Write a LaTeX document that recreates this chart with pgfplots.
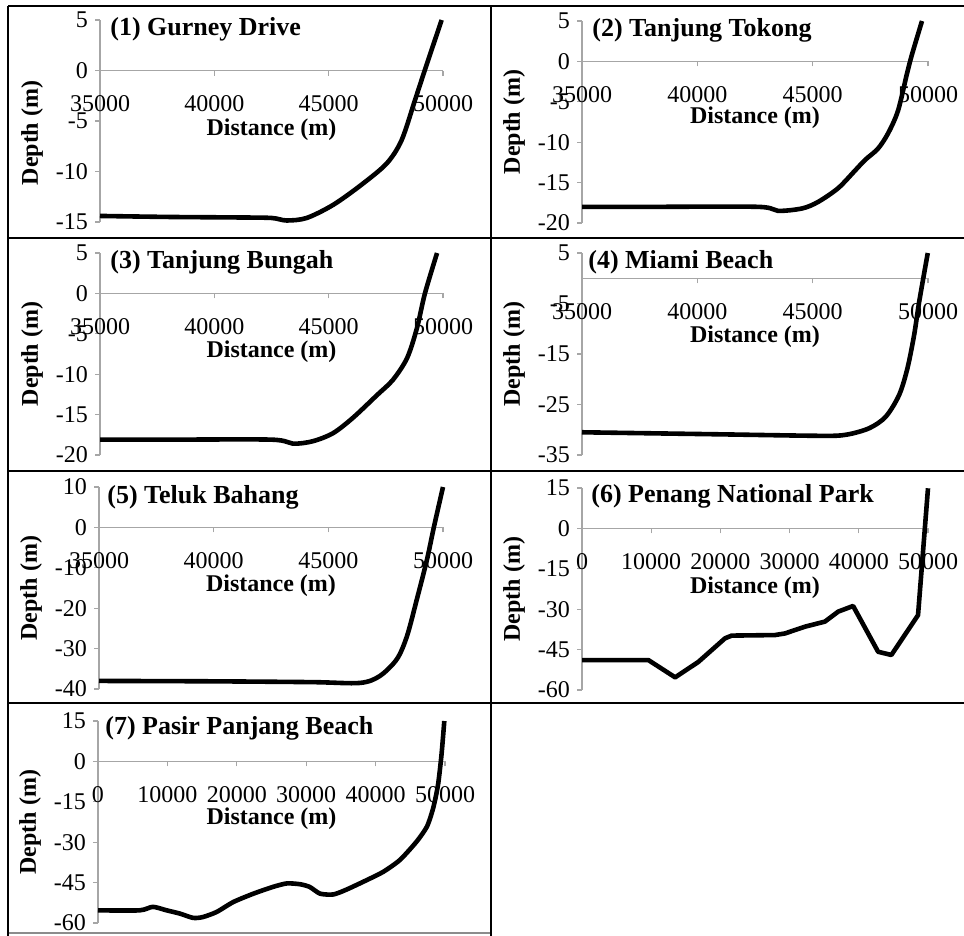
\documentclass[border=0pt]{standalone}
\usepackage{pgfplots}
\pgfplotsset{compat=1.18}
\usepackage{fontspec}
\setmainfont{Liberation Serif}
\definecolor{axgray}{RGB}{166,166,166}
\newcommand{\tickfont}{\fontsize{12}{14}\selectfont}
\newcommand{\labfont}{\fontsize{12}{14}\selectfont\bfseries}
\newcommand{\titfont}{\fontsize{13}{15}\selectfont\bfseries}
\tikzset{tit/.style={anchor=base west, inner sep=0pt, font=\titfont}}
\pgfplotsset{
  panel/.style={
    scale only axis, height=101pt, anchor=south west,
    axis x line=middle, axis y line=left,
    axis line style={draw=axgray, line width=0.6pt, -},
    tick style={draw=axgray, line width=0.6pt},
    major tick length=2.5pt,
    tick align=outside,
    scaled x ticks=false, scaled y ticks=false,
    hide obscured x ticks=false, hide obscured y ticks=false,
    xticklabel style={font=\tickfont, anchor=base, yshift=-18pt},
    yticklabel style={font=\tickfont},
    clip=false,
  },
  depth/.style={black, line width=2.3pt, line join=round, line cap=butt, no marks},
  farx/.style={xmin=35000, xmax=50000, xtick={35000,40000,45000,50000}, xticklabels={35000,40000,45000,50000}},
  fullx/.style={xmin=0, xmax=50000, xtick={0,10000,20000,30000,40000,50000}, xticklabels={0,10000,20000,30000,40000,50000}},
}
\begin{document}
\begin{tikzpicture}
\useasboundingbox (0,0) rectangle (482pt,-468pt);
% panel frames
\draw[line width=1pt, black] (4pt,-3pt) -- (482pt,-3pt);
\draw[line width=1pt, black] (4pt,-119pt) -- (482pt,-119pt);
\draw[line width=1pt, black] (4pt,-235.5pt) -- (482pt,-235.5pt);
\draw[line width=1pt, black] (4pt,-351.5pt) -- (482pt,-351.5pt);
\draw[line width=0.6pt, black!45] (4pt,-466.5pt) -- (245.5pt,-466.5pt);
\draw[line width=1pt, black] (4pt,-3pt) -- (4pt,-468pt);
\draw[line width=1pt, black] (245.5pt,-3pt) -- (245.5pt,-468pt);

% (1) Gurney Drive
\begin{axis}[panel, farx, at={(50pt,-111pt)}, width=171.5pt,
  ymin=-15, ymax=5, ytick={-15,-10,-5,0,5}, yticklabels={-15,-10,-5,0,5}]
\addplot[depth, smooth, tension=0.5] coordinates {(35000,-14.4) (38000,-14.5) (41000,-14.55) (42500,-14.6) (43160,-14.85) (44040,-14.6) (45200,-13.3) (46440,-11.3) (47540,-9.2) (48190,-6.9) (48780,-2.9) (49200,0) (49940,5)};
\node[tit, xshift=5pt, yshift=-7.5pt] at (axis description cs:0,1) {(1) Gurney Drive};
\node[anchor=base, yshift=-32.5pt, font=\labfont] at (axis cs:42500,0) {Distance (m)};
\node[rotate=90, font=\labfont] at ([xshift=-34pt,yshift=-6pt]axis description cs:0,0.5) {Depth (m)};
\end{axis}

% (2) Tanjung Tokong
\begin{axis}[panel, farx, at={(291pt,-111.5pt)}, width=173pt,
  ymin=-20, ymax=5, ytick={-20,-15,-10,-5,0,5}, yticklabels={-20,-15,-10,-5,0,5}]
\addplot[depth, smooth, tension=0.5] coordinates {(35000,-18.0) (38000,-18.0) (42630,-18.0) (43500,-18.5) (44540,-18.2) (45230,-17.4) (46100,-15.7) (46840,-13.5) (47270,-12.2) (47830,-10.8) (48270,-8.9) (48700,-6.1) (49090,-1.5) (49310,0.9) (49740,5)};
\node[tit, xshift=5pt, yshift=-7.5pt] at (axis description cs:0,1) {(2) Tanjung Tokong};
\node[anchor=base, yshift=-31pt, font=\labfont] at (axis cs:42500,0) {Distance (m)};
\node[rotate=90, font=\labfont] at ([xshift=-34pt]axis description cs:0,0.5) {Depth (m)};
\end{axis}

% (3) Tanjung Bungah
\begin{axis}[panel, farx, at={(50pt,-227.5pt)}, width=171.5pt,
  ymin=-20, ymax=5, ytick={-20,-15,-10,-5,0,5}, yticklabels={-20,-15,-10,-5,0,5}]
\addplot[depth, smooth, tension=0.5] coordinates {(35000,-18.1) (38000,-18.1) (42500,-18.1) (43440,-18.6) (44300,-18.3) (45190,-17.3) (46060,-15.4) (47110,-12.6) (47810,-10.7) (48430,-8.0) (48860,-4.3) (49210,0) (49740,5)};
\node[tit, xshift=5pt, yshift=-7.5pt] at (axis description cs:0,1) {(3) Tanjung Bungah};
\node[anchor=base, yshift=-32pt, font=\labfont] at (axis cs:42500,0) {Distance (m)};
\node[rotate=90, font=\labfont] at ([xshift=-34pt]axis description cs:0,0.5) {Depth (m)};
\end{axis}

% (4) Miami Beach
\begin{axis}[panel, farx, at={(291pt,-227.5pt)}, width=173pt,
  ymin=-35, ymax=5, ytick={-35,-25,-15,-5,5}, yticklabels={-35,-25,-15,-5,5}]
\addplot[depth, smooth, tension=0.5] coordinates {(35000,-30.5) (40900,-30.9) (45280,-31.2) (46430,-31.0) (47450,-29.7) (48170,-27.4) (48750,-23.1) (49110,-17.8) (49400,-11.2) (49620,-4.6) (49990,5)};
\node[tit, xshift=3pt, yshift=-7.5pt] at (axis description cs:0,1) {(4) Miami Beach};
\node[anchor=base, yshift=-32pt, font=\labfont] at (axis cs:42500,0) {Distance (m)};
\node[rotate=90, font=\labfont] at ([xshift=-34pt]axis description cs:0,0.5) {Depth (m)};
\end{axis}

% (5) Teluk Bahang
\begin{axis}[panel, farx, at={(49.5pt,-344.5pt)}, width=172pt,
  ymin=-40, ymax=10, ytick={-40,-30,-20,-10,0,10}, yticklabels={-40,-30,-20,-10,0,10}]
\addplot[depth, smooth, tension=0.5] coordinates {(35000,-38.0) (40000,-38.1) (44310,-38.3) (46370,-38.5) (47240,-36.8) (47990,-32.6) (48430,-26.9) (48860,-17.8) (49300,-8.0) (49600,0) (50000,10)};
\node[tit, xshift=4pt, yshift=-8pt] at (axis description cs:0,1) {(5) Teluk Bahang};
\node[anchor=base, yshift=-32pt, font=\labfont] at (axis cs:42500,0) {Distance (m)};
\node[rotate=90, font=\labfont] at ([xshift=-34pt]axis description cs:0,0.5) {Depth (m)};
\end{axis}

% (6) Penang National Park
\begin{axis}[panel, fullx, at={(291pt,-345pt)}, width=173pt,
  ymin=-60, ymax=15, ytick={-60,-45,-30,-15,0,15}, yticklabels={-60,-45,-30,-15,0,15}]
\addplot[depth, sharp plot] coordinates {(0,-48.9) (9600,-48.9) (13460,-55.3) (16800,-49.6) (20670,-40.8) (21630,-39.8) (27880,-39.6) (29330,-39.0) (32210,-36.5) (35100,-34.6) (37020,-30.9) (39180,-28.8) (42790,-45.8) (44710,-47.0) (48560,-32.2) (50000,14.9)};
\node[tit, xshift=4.5pt, yshift=-7pt] at (axis description cs:0,1) {(6) Penang National Park};
\node[anchor=base, yshift=-32.5pt, font=\labfont] at (axis cs:25000,0) {Distance (m)};
\node[rotate=90, font=\labfont] at ([xshift=-34pt]axis description cs:0,0.5) {Depth (m)};
\end{axis}

% (7) Pasir Panjang Beach
\begin{axis}[panel, fullx, at={(49pt,-461.5pt)}, width=173.5pt,
  ymin=-60, ymax=15, ytick={-60,-45,-30,-15,0,15}, yticklabels={-60,-45,-30,-15,0,15}]
\addplot[depth, smooth, tension=0.4] coordinates {(0,-55.3) (6000,-55.3) (7900,-54.0) (9900,-55.3) (11800,-56.5) (13700,-58.1) (15100,-57.8) (17100,-55.9) (19500,-52.2) (22400,-49.1) (25200,-46.6) (27200,-45.3) (29100,-45.6) (30500,-46.6) (32000,-49.1) (33900,-49.4) (35800,-47.6) (38700,-44.1) (41100,-41.0) (43500,-36.6) (45900,-29.8) (47400,-24.2) (48300,-17.3) (49000,-8.6) (49500,2.6) (49900,15)};
\node[tit, xshift=3.5pt, yshift=-6.5pt] at (axis description cs:0,1) {(7) Pasir Panjang Beach};
\node[anchor=base, yshift=-31.5pt, font=\labfont] at (axis cs:25000,0) {Distance (m)};
\node[rotate=90, font=\labfont] at ([xshift=-34pt]axis description cs:0,0.5) {Depth (m)};
\end{axis}
\end{tikzpicture}
\end{document}
